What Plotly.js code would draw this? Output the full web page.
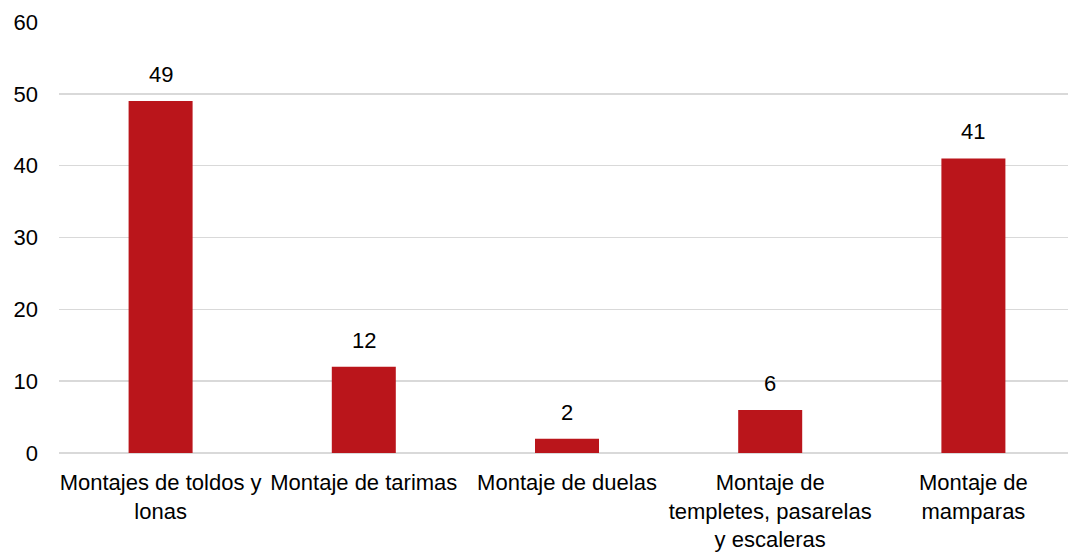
<!DOCTYPE html>
<html>
<head>
<meta charset="utf-8">
<script src="https://cdn.plot.ly/plotly-3.0.1.min.js"></script>
<style>
html,body{margin:0;padding:0;overflow:hidden;background:#fff;}
#chart{width:1076px;height:553px;}
</style>
</head>
<body>
<div id="chart"></div>
<script>
var categories = ["Montajes de toldos y<br>lonas", "Montaje de tarimas", "Montaje de duelas", "Montaje de<br>templetes, pasarelas<br>y escaleras", "Montaje de<br>mamparas"];
var values = [49, 12, 2, 6, 41];
var yTicks = [0, 10, 20, 30, 40, 50, 60];

var font = {family: "Liberation Sans, Arial, sans-serif", size: 22, color: "#000"};

var trace = {
  type: "bar",
  x: categories,
  y: values,
  marker: {color: "#BA151B"},
  hoverinfo: "none"
};

var annotations = categories.map(function(c, i){
  return {x: c, y: values[i], text: String(values[i]), showarrow: false,
          xanchor: "center", yanchor: "bottom", yshift: 12, font: font};
});

var layout = {
  width: 1076, height: 553,
  margin: {l: 59, r: 1, t: 22, b: 100},
  paper_bgcolor: "#fff", plot_bgcolor: "#fff",
  font: font,
  showlegend: false,
  bargap: 0.685,
  xaxis: {type: "category", showgrid: false, zeroline: false, showline: false,
          ticks: "", tickfont: font, ticklabelstandoff: 14, automargin: false},
  yaxis: {range: [0, 60], tickvals: yTicks, ticktext: yTicks.map(String),
          showgrid: true, gridcolor: "#d9d9d9", gridwidth: 1.5,
          zeroline: true, zerolinecolor: "#d9d9d9", zerolinewidth: 1.5,
          showline: false, ticks: "", tickfont: font, ticklabelstandoff: 20, automargin: false},
  annotations: annotations
};

Plotly.newPlot("chart", [trace], layout, {displayModeBar: false, staticPlot: true});
</script>
</body>
</html>
